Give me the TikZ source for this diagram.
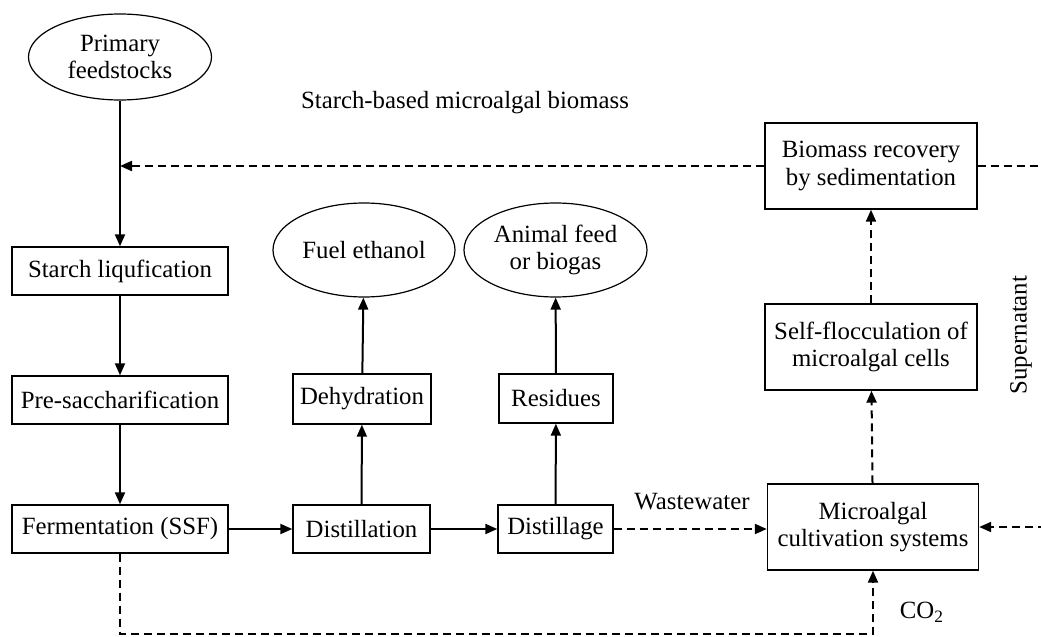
\documentclass[tikz,border=0pt]{standalone}
\usepackage{fontspec}
\setmainfont{Liberation Serif}
\usetikzlibrary{arrows.meta,shapes.geometric}
\begin{document}
\begin{tikzpicture}[x=0.5pt,y=-0.5pt,
  every node/.style={font=\fontsize{12.4}{13.6}\selectfont, align=center, inner sep=0pt},
  procbox/.style={draw, line width=0.7pt, rectangle},
  endoval/.style={draw, line width=0.6pt, ellipse},
  flow/.style={line width=1pt, -{Triangle[length=6pt,width=5pt]}},
  dflow/.style={line width=1pt, dash pattern=on 4pt off 2.5pt, -{Triangle[length=6pt,width=5pt]}}
]
\useasboundingbox (0,0) rectangle (1041,637);
% nodes
\node[endoval, minimum width=91.5pt, minimum height=43pt] (pf) at (120,57) {Primary\\feedstocks};
\node[procbox, minimum width=108pt, minimum height=24pt] (sl) at (120,271) {Starch liqufication};
\node[procbox, minimum width=108pt, minimum height=24pt] (ps) at (120,400) {Pre-saccharification};
\node[procbox, minimum width=108pt, minimum height=24pt] (fe) at (120,529) {Fermentation (SSF)};
\node[procbox, minimum width=68.5pt, minimum height=24pt] (di) at (361.5,529) {Distillation};
\node[procbox, minimum width=57.5pt, minimum height=24pt] (dg) at (555.5,529) {Distillage};
\node[procbox, minimum width=69pt, minimum height=25pt] (dh) at (362,399) {Dehydration};
\node[procbox, minimum width=57pt, minimum height=24.5pt] (rs) at (556,398.5) {Residues};
\node[endoval, minimum width=91pt, minimum height=47pt] (fu) at (364,250) {Fuel ethanol};
\node[endoval, minimum width=91.5pt, minimum height=47pt] (af) at (555.5,250) {Animal feed\\or biogas};
\node[procbox, minimum width=106pt, minimum height=43pt] (br) at (871,166) {Biomass recovery\\by sedimentation};
\node[procbox, minimum width=106pt, minimum height=43pt] (sf) at (871,347) {Self-flocculation of\\microalgal cells};
\node[procbox, minimum width=105.5pt, minimum height=43pt] (mc) at (873,527) {Microalgal\\cultivation systems};
% labels
\node (lsb) at (465,103) {Starch-based microalgal biomass};
\node (lww) at (692,502) {Wastewater};
\node (lco) at (922,612) {CO\textsubscript{2}};
\node[rotate=90] (lsn) at (1021,335) {Supernatant};
% coordinates
\coordinate (jn) at (pf.south |- br.west);
\coordinate (rt) at (1046,166);
\coordinate (rb) at (1046,527);
\coordinate (lb) at (120,634);
% solid flow
\draw[flow] (pf) -- (sl);
\draw[flow] (sl) -- (ps);
\draw[flow] (ps) -- (fe);
\draw[flow] (fe) -- (di);
\draw[flow] (di) -- (dg);
\draw[flow] (di) -- (dh);
\draw[flow] (dh) -- (fu);
\draw[flow] (dg) -- (rs);
\draw[flow] (rs) -- (af);
% dashed flow
\draw[dflow] (br.west) -- (jn);
\draw[dflow] (dg.east) -- (dg.east -| mc.west);
\draw[dflow] (mc) -- (sf);
\draw[dflow] (sf) -- (br);
\draw[dflow] (br.east) -- (rt) -- (rb) -- (mc.east);
\draw[dflow] (fe.south) -- (lb) -| (mc.south);
\end{tikzpicture}
\end{document}
